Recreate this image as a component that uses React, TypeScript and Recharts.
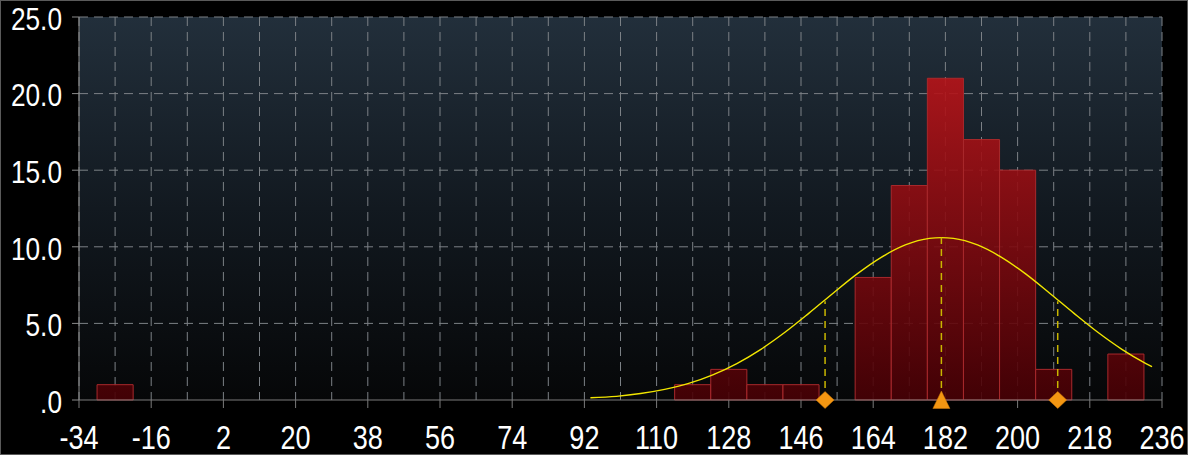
import React from "react";
import {
  ComposedChart,
  Line,
  Scatter,
  XAxis,
  YAxis,
  CartesianGrid,
  ReferenceLine,
  ReferenceArea,
} from "recharts";

// Histogram bins (bin centre, count); bin width 9
const binCenters = [-25, -16, -7, 2, 11, 20, 29, 38, 47, 56, 65, 74, 83, 92, 101, 110, 119, 128, 137, 146, 155, 164, 173, 182, 191, 200, 209, 218, 227];
const binCounts = [1, 0, 0, 0, 0, 0, 0, 0, 0, 0, 0, 0, 0, 0, 0, 0, 1, 2, 1, 1, 0, 8, 14, 21, 17, 15, 2, 0, 3];
const binWidth = 9;

// Fitted normal curve
const curveX = [93.5, 100, 106, 112, 118, 124, 130, 136, 142, 148, 154, 160, 166, 172, 178, 181, 184, 190, 196, 202, 208, 214, 220, 226, 232, 233.5];
const curveY = [0.15, 0.24, 0.42, 0.69, 1.08, 1.64, 2.38, 3.31, 4.42, 5.67, 6.97, 8.23, 9.31, 10.12, 10.55, 10.6, 10.55, 10.12, 9.31, 8.23, 6.97, 5.67, 4.42, 3.31, 2.38, 2.17];

// Markers: mean and +/- one standard deviation
const markerX = [152, 181, 210];
const markerCurveY = [6.45, 10.6, 6.45];
const markerShape = ["diamond", "triangle", "diamond"];

const xTicks = [-34, -16, 2, 20, 38, 56, 74, 92, 110, 128, 146, 164, 182, 200, 218, 236];
const xGrid = [-34, -25, -16, -7, 2, 11, 20, 29, 38, 47, 56, 65, 74, 83, 92, 101, 110, 119, 128, 137, 146, 155, 164, 173, 182, 191, 200, 209, 218, 227, 236];
const yTicks = [0, 5, 10, 15, 20, 25];

const bins = binCenters.map((x, i) => ({ x, count: binCounts[i] }));
const curve = curveX.map((x, i) => ({ x, y: curveY[i] }));
const markers = markerX.map((x, i) => ({ x, y: 0, shape: markerShape[i] }));

const FONT = "'Liberation Sans', Arial, sans-serif";
const SQUEEZE = 0.82;

const XTick = (props: any) => {
  const { x, y, payload } = props;
  return (
    <g transform={`translate(${x},${y})`}>
      <text
        transform={`scale(${SQUEEZE},1)`}
        textAnchor="middle"
        dy="0.71em"
        fill="#ffffff"
        fontSize={33}
        fontFamily={FONT}
      >
        {String(payload.value)}
      </text>
    </g>
  );
};

const YTick = (props: any) => {
  const { x, y, payload } = props;
  const v = payload.value as number;
  const label = v === 0 ? ".0" : v.toFixed(1);
  return (
    <g transform={`translate(${x},${y})`}>
      <text
        transform={`scale(${SQUEEZE},1)`}
        textAnchor="end"
        dy="0.4em"
        fill="#ffffff"
        fontSize={32}
        fontFamily={FONT}
      >
        {label}
      </text>
    </g>
  );
};

const MarkerShape = (props: any) => {
  const { cx, cy, payload } = props;
  if (cx == null || cy == null) return null;
  if (payload.shape === "triangle") {
    return (
      <polygon
        points={`${cx},${cy - 9} ${cx + 8.5},${cy + 8.5} ${cx - 8.5},${cy + 8.5}`}
        fill="#f39612"
        stroke="#d07a08"
        strokeWidth={0.5}
      />
    );
  }
  return (
    <polygon
      points={`${cx},${cy - 8.5} ${cx + 9},${cy} ${cx},${cy + 8.5} ${cx - 9},${cy}`}
      fill="#f39612"
      stroke="#d07a08"
      strokeWidth={0.5}
    />
  );
};

export default function App() {
  return (
    <div style={{ position: "absolute", left: 0, top: 0, width: 1188, height: 455, background: "#000" }}>
      <ComposedChart
        width={1188}
        height={455}
        data={curve}
        margin={{ top: 17, right: 26, left: 0, bottom: 0 }}
      >
        <defs>
          <linearGradient id="bgGrad" x1="0" y1="0" x2="0" y2="1">
            <stop offset="0%" stopColor="#222f3b" />
            <stop offset="50%" stopColor="#121920" />
            <stop offset="100%" stopColor="#060708" />
          </linearGradient>
          <linearGradient id="barGrad" gradientUnits="userSpaceOnUse" x1="0" y1="17" x2="0" y2="400">
            <stop offset="0%" stopColor="#cc171c" />
            <stop offset="100%" stopColor="#480005" />
          </linearGradient>
        </defs>
        <CartesianGrid
          fill="url(#bgGrad)"
          stroke="#7c8186"
          strokeDasharray="9 6"
          verticalValues={xGrid}
          horizontalValues={[5, 10, 15, 20, 25]}
        />
        <XAxis
          dataKey="x"
          type="number"
          domain={[-34, 236]}
          ticks={xTicks}
          allowDataOverflow
          height={55}
          stroke="#7a7a7a"
          tickSize={8}
          tickMargin={18}
          tick={<XTick />}
          interval={0}
        />
        <YAxis
          domain={[0, 25]}
          ticks={yTicks}
          width={79}
          stroke="#8a8a8a"
          tickSize={7}
          tickMargin={10}
          tick={<YTick />}
          interval={0}
        />
        {bins
          .filter((b) => b.count > 0)
          .map((b) => (
            <ReferenceArea
              key={b.x}
              x1={b.x - binWidth / 2}
              x2={b.x + binWidth / 2}
              y1={0}
              y2={b.count}
              fill="url(#barGrad)"
              fillOpacity={0.9}
              stroke="#a8292c"
              strokeWidth={1}
              strokeOpacity={1}
              ifOverflow="visible"
            />
          ))}
        <Line
          data={curve}
          dataKey="y"
          type="monotone"
          stroke="#f2e600"
          strokeWidth={1.4}
          dot={false}
          activeDot={false}
          isAnimationActive={false}
        />
        {markerX.map((x, i) => (
          <ReferenceLine
            key={x}
            segment={[
              { x, y: 0 },
              { x, y: markerCurveY[i] },
            ]}
            stroke="#c9b600"
            strokeWidth={1.5}
            strokeDasharray="7 5"
          />
        ))}
        <Scatter data={markers} dataKey="y" shape={<MarkerShape />} isAnimationActive={false} />
      </ComposedChart>
      <div
        style={{
          position: "absolute",
          left: 0,
          top: 0,
          width: 1188,
          height: 455,
          boxSizing: "border-box",
          border: "1px solid #5a5a5a",
          pointerEvents: "none",
        }}
      />
    </div>
  );
}
